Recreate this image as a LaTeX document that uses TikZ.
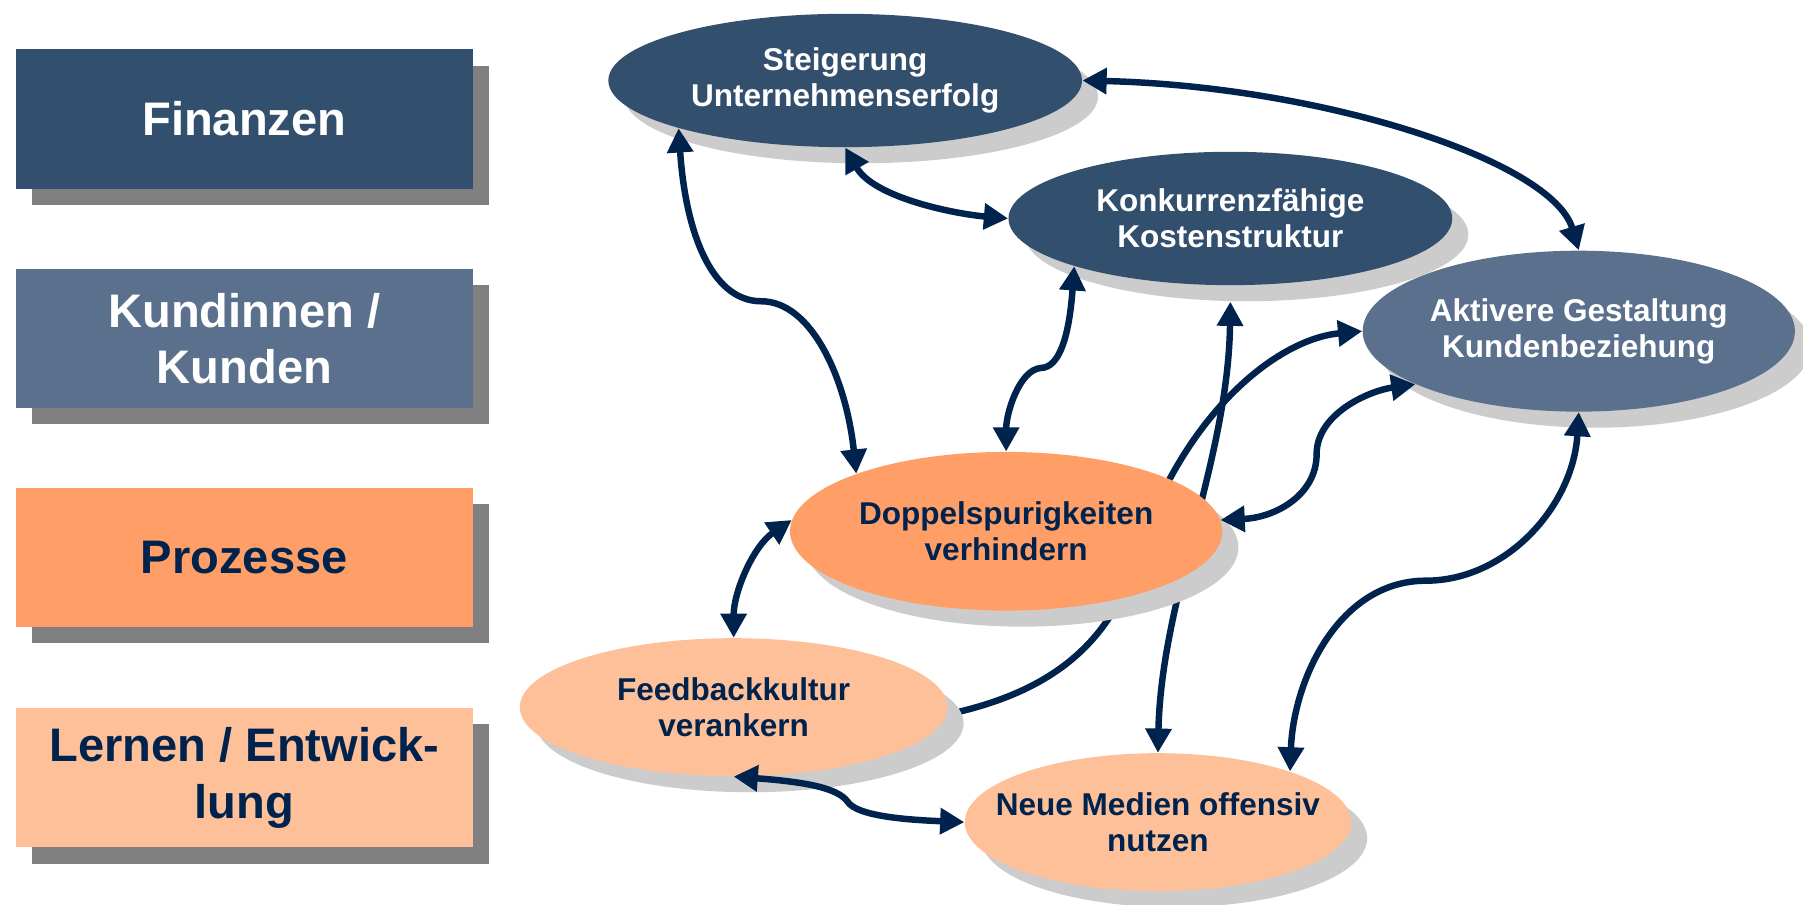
\documentclass[tikz,border=0pt]{standalone}
\usepackage{fontspec}
\setmainfont{Liberation Sans}
\usetikzlibrary{shapes.geometric,shadows,arrows.meta,backgrounds}
\definecolor{dblue}{HTML}{334F6E}
\definecolor{mblue}{HTML}{5B708C}
\definecolor{orng}{HTML}{FF9E66}
\definecolor{lorng}{HTML}{FDC099}
\definecolor{navy}{HTML}{00234D}
\definecolor{shgrey}{HTML}{CCCCCC}
\tikzset{
  persp/.style={rectangle, inner sep=0pt, align=center,
    minimum width=7.94cm, minimum height=2.42cm,
    font=\bfseries\fontsize{23.3}{28}\selectfont,
    drop shadow={shadow xshift=0.28cm, shadow yshift=-0.28cm, fill=gray, opacity=1}},
  goal/.style={ellipse, inner xsep=-1cm, inner ysep=0pt, align=center,
    font=\bfseries\fontsize{15.6}{18}\selectfont,
    drop shadow={shadow xshift=0.28cm, shadow yshift=-0.28cm, fill=shgrey, opacity=1}},
  link/.style={draw=navy, line width=3.2pt, >={Triangle[length=12pt,width=12.5pt]}},
}
\begin{document}
\begin{tikzpicture}[x=0.02cm, y=-0.02cm]
        \useasboundingbox (0,0) rectangle (1568,787);
        \node[persp, fill=dblue, text=white] at(212.5, 103.5) (fin) {Finanzen};
        \node[persp, fill=mblue, text=white] at(212.5, 294.5) (kun) {Kundinnen /\\Kunden};
        \node[persp, fill=orng, text=navy] at(212.5, 484.5) (pro) {Prozesse};
        \node[persp, fill=lorng, text=navy] at(212.5, 676.5) (ler) {Lernen / Entwick-\\lung};

        \node[goal, fill=dblue, text=white, minimum width=8.24cm, minimum height=2.32cm] at(735, 70) (st) {Steigerung\\Unternehmenserfolg};
        \node[goal, fill=dblue, text=white, minimum width=7.72cm, minimum height=2.32cm] at(1070, 190) (kk) {Konkurrenzfähige\\Kostenstruktur};
        \node[goal, fill=mblue, text=white, minimum width=7.52cm, minimum height=2.8cm] at(1373, 288) (ak) {Aktivere Gestaltung\\Kundenbeziehung};
        \node[goal, fill=orng, text=navy, minimum width=7.52cm, minimum height=2.76cm] at(875, 462) (dp) {Doppelspurigkeiten\\verhindern};
        \node[goal, fill=lorng, text=navy, minimum width=7.44cm, minimum height=2.4cm] at(638, 615) (fb) {Feedbackkultur\\verankern};
        \node[goal, fill=lorng, text=navy, minimum width=6.72cm, minimum height=2.4cm] at(1007, 715) (nm) {Neue Medien offensiv\\nutzen};

        \draw[link, <->] (st.196.5) .. controls (596, 200) and (618, 262) .. (662, 262)
            .. controls (706, 262) and (736, 330) .. (dp.159);
        \draw[link, <->] (st.south) .. controls (760, 172) and (830, 186) .. (kk.west);
        \draw[link, <->] (st.east) .. controls (1150, 75) and (1350, 140) .. (ak.north);
        \draw[link, <->] (kk.197) .. controls (930, 290) and (922, 320) .. (905, 320)
            .. controls (886, 322) and (875, 360) .. (dp.north);
        \draw[link, <->] (dp.3) .. controls (1110, 450) and (1145, 430) .. (1145, 395)
            .. controls (1145, 360) and (1190, 340) .. (ak.198);
        \draw[link, <->] (ak.south) .. controls (1368, 440) and (1310, 505) .. (1240, 505)
            .. controls (1165, 505) and (1125, 590) .. (nm.21);
        \draw[link, <->] (dp.177) .. controls (655, 475) and (638, 515) .. (fb.north);
        \draw[link, <->] (fb.south) .. controls (700, 680) and (728, 685) .. (737, 697)
            .. controls (745, 710) and (790, 713) .. (nm.west);
        \begin{scope}[on background layer]
            \draw[link, <->] ([yshift=-0.28cm]kk.south) .. controls (1068, 400) and (1010, 520) .. (nm.north);
            \draw[link, ->] (fb.-2) .. controls (900, 605) and (965, 570) .. (990, 480)
                .. controls (1030, 360) and (1110, 295) .. (ak.west);
        \end{scope}
    \end{tikzpicture}
\end{document}
